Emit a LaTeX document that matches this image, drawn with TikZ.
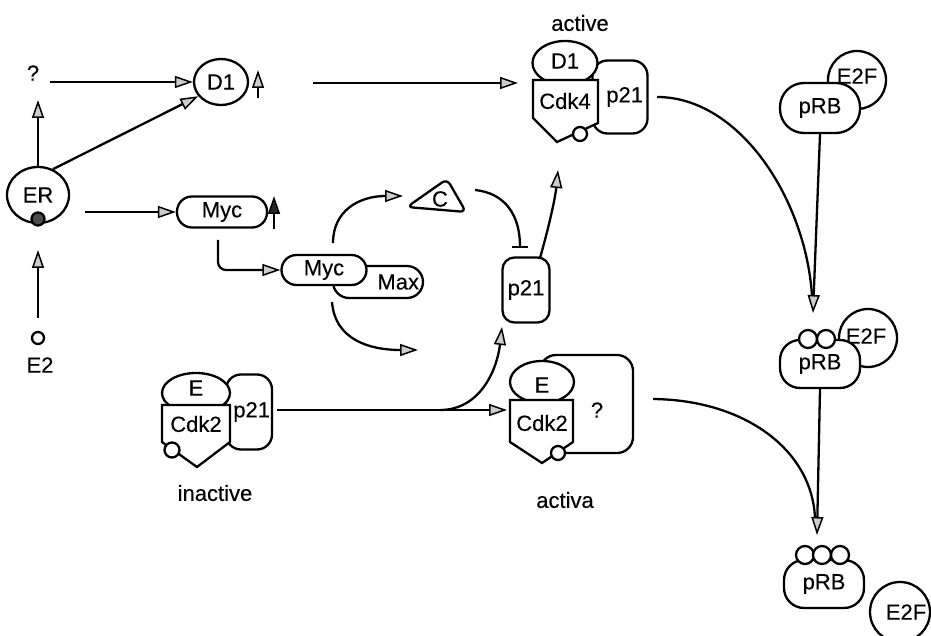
\documentclass[tikz,border=0pt]{standalone}
\usepackage{fontspec}
\setmainfont{Liberation Sans}
\newfontfamily\lblfont[FakeBold=0.25]{Liberation Sans}
\usetikzlibrary{arrows.meta,shapes.geometric,calc}
\begin{document}
\begin{tikzpicture}[x=1pt,y=-1pt,line width=2.3pt,
  lbl/.style={font=\lblfont\fontsize{22}{26}\selectfont, inner sep=0pt},
  oarr/.style={-{Triangle[length=18pt,width=12pt,fill=black!20,line width=1.5pt]}},
  farr/.style={-{Triangle[length=18pt,width=12pt,fill=black!85,line width=1.5pt]}},
  pill/.style={draw, fill=white, rounded corners=#1, inner sep=0pt, font=\lblfont\fontsize{22}{26}\selectfont},
  oval/.style={draw, fill=white, ellipse, inner sep=0pt, font=\lblfont\fontsize{22}{26}\selectfont},
  dot/.style={draw, fill=white, circle, inner sep=0pt, minimum size=#1}
]
\useasboundingbox (0,0) rectangle (931,636);

% ---- left part ----
\node[lbl] (q) at (33,73) {?};
\node[oval, minimum width=54pt, minimum height=46pt] (D1) at (221,82) {D1};
\node[oval, minimum width=62pt, minimum height=56pt] (ER) at (38,195) {ER};
\node[circle, draw, fill=black!70, inner sep=0pt, minimum size=13pt] (ERdot) at (38,219) {};
\node[dot=12pt] (e2c) at (38,338) {};
\node[lbl] (e2) at (40,365) {E2};
\node[pill=15pt, minimum width=90pt, minimum height=31pt] (Myc) at (222,212) {Myc};

\coordinate (qr) at (50,82);
\coordinate (qb) at (38,100);
\coordinate (ERr) at (85,212);
\coordinate (e2t) at (38,318);
\coordinate (ERb) at (38,250);
\draw[oarr] (qr) -- (D1.west);
\draw[oarr] (ER.north) -- (qb);
\draw[oarr] (ER.60) -- (D1.212);
\draw[oarr] (ERr) -- (Myc.west);
\draw[oarr] (e2t) -- (ERb);
\coordinate (d1a) at (258,98); \coordinate (d1b) at (258,70);
\draw[oarr] (d1a) -- (d1b);
\coordinate (mya) at (274,229); \coordinate (myb) at (274,196);
\draw[farr] (mya) -- (myb);

% ---- Myc/Max ----
\node[pill=16pt, minimum width=90pt, minimum height=32pt, text width=82pt, align=right] (Max) at (378,282) {Max};
\node[pill=15pt, minimum width=85pt, minimum height=30pt] (Myc2) at (324,270) {Myc};
\coordinate (mycb) at (218,240);
\draw[oarr, rounded corners=8pt] (mycb) -- (218,270) -- (Myc2.west);

% ---- C triangle ----
\draw[fill=white, rounded corners=6pt] (407,207) -- (447,179) -- (466,212) -- cycle;
\node[lbl] (C) at (440,199) {C};
\coordinate (myctop) at (333,243);
\coordinate (cin) at (403,196);
\draw[oarr] (myctop) .. controls (333,210) and (360,196) .. (cin);

% ---- middle p21 ----
\node[pill=12pt, minimum width=47pt, minimum height=65pt] (p21m) at (526,290) {p21};
\coordinate (cout) at (475,190);
\coordinate (inh) at (520,248);
\draw[-{Bar[width=16pt,line width=2.3pt]}] (cout) .. controls (505,193) and (520,215) .. (inh);
\coordinate (p21mt) at (540,258);
\coordinate (cdk4in) at (558,170);
\draw[oarr] (p21mt) .. controls (548,230) and (555,200) .. (cdk4in);

% ---- active D1/Cdk4 ----
\node[lbl] (act1) at (580,23) {active};
\node[pill=15pt, minimum width=55pt, minimum height=73pt, text width=46pt, align=right] (p21a) at (620,97) {p21};
\node[oval, minimum width=65pt, minimum height=44pt] (D1a) at (565,63) {};
\draw[fill=white] (533,80) -- (598,80) -- (598,123) -- (557,142) -- (533,118) -- cycle;
\node[dot=14pt] (c4dot) at (580,134) {};
\node[lbl] (D1at) at (565,61) {D1};
\node[lbl] (Cdk4) at (565,101) {Cdk4};
\coordinate (d1r) at (313,83);
\coordinate (cdk4l) at (518,83);
\draw[oarr] (d1r) -- (cdk4l);

% ---- inactive E/Cdk2 ----
\node[pill=15pt, minimum width=46pt, minimum height=75pt, text width=42pt, align=right] (p21i) at (249,412) {p21};
\node[oval, minimum width=68pt, minimum height=40pt] (Ei) at (196,393) {};
\draw[fill=white] (162,405) -- (230,405) -- (230,442) -- (197,467) -- (162,442) -- cycle;
\node[dot=15pt] (c2dot) at (172,450) {};
\node[lbl] (Eit) at (196,388) {E};
\node[lbl] (Cdk2i) at (196,424) {Cdk2};
\node[lbl] (inact) at (215,493) {inactive};

% ---- active E/Cdk2 ----
\draw[rounded corners=16pt, fill=white] (540,355) rectangle (633,453);
\node[oval, minimum width=64pt, minimum height=42pt] (Ea) at (542,382) {};
\draw[fill=white] (510,400) -- (573,400) -- (573,442) -- (542,463) -- (510,442) -- cycle;
\node[dot=14pt] (c2adot) at (558,453) {};
\node[lbl] (Eat) at (542,385) {E};
\node[lbl] (Cdk2a) at (542,423) {Cdk2};
\node[lbl] (qa) at (597,410) {?};
\node[lbl] (activa) at (565,500) {activa};

% ---- connectors lower middle ----
\coordinate (p21ir) at (277,410);
\coordinate (cdk2al) at (507,410);
\coordinate (br) at (440,410);
\coordinate (p21mb) at (502,327);
\draw[oarr] (p21ir) -- (cdk2al);
\draw[oarr] (br) .. controls (480,410) and (497,370) .. (p21mb);
\coordinate (maxb) at (332,302);
\coordinate (lowtip) at (418,350);
\draw[oarr] (maxb) .. controls (335,340) and (370,350) .. (lowtip);

% ---- pRB column ----
\node[dot=58pt] (E2F1) at (857,80) {};
\node[lbl] (E2F1t) at (857,76) {E2F};
\node[pill=24pt, minimum width=80pt, minimum height=50pt] (pRB1) at (820,108) {pRB};

\node[dot=58pt] (E2F2) at (868,338) {};
\node[lbl] (E2F2t) at (866,336) {E2F};
\node[pill=20pt, minimum width=80pt, minimum height=48pt] (pRB2) at (820,364) {pRB};
\node[dot=18pt] (pa1) at (808,339) {};
\node[dot=18pt] (pa2) at (826,339) {};

\node[pill=20pt, minimum width=80pt, minimum height=48pt] (pRB3) at (824,584) {pRB};
\node[dot=18pt] (pb1) at (805,555) {};
\node[dot=18pt] (pb2) at (822,555) {};
\node[dot=18pt] (pb3) at (840,555) {};
\node[dot=60pt] (E2F3) at (900,612) {};
\node[lbl] (E2F3t) at (906,612) {E2F};

\coordinate (v1b) at (813,313);
\draw[oarr] (pRB1.south) -- (v1b);
\coordinate (p21ar) at (657,97);
\coordinate (j1) at (812,296);
\draw (p21ar) .. controls (740,97) and (806,200) .. (j1);
\coordinate (v2b) at (817,535);
\draw[oarr] (pRB2.south) -- (v2b);
\coordinate (qar) at (653,399);
\coordinate (j2) at (815,518);
\draw (qar) .. controls (745,400) and (812,450) .. (j2);
\end{tikzpicture}
\end{document}
